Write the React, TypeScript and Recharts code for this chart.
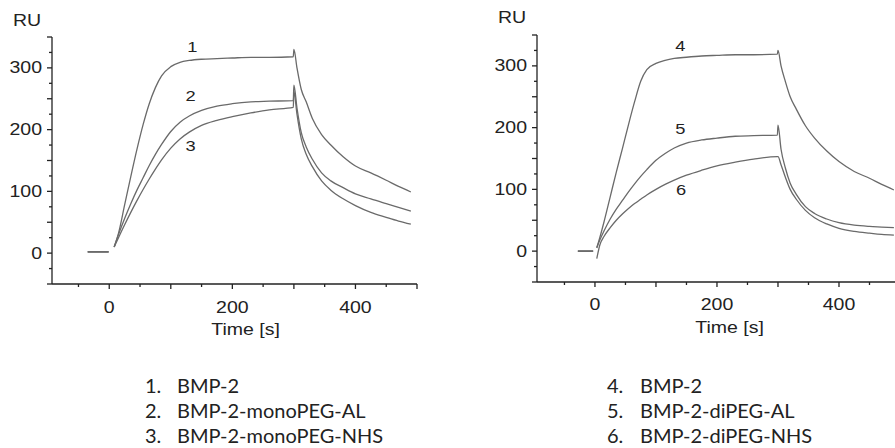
import React from 'react';
import { LineChart, Line, XAxis, YAxis, ReferenceDot } from 'recharts';

// time points (s) for each panel
const leftTime = [-35, -1, 4, 8, 15, 25, 35, 45, 55, 65, 75, 85, 100, 115, 130, 150, 175, 200, 230, 260, 299, 300, 305, 312, 320, 330, 345, 360, 380, 400, 425, 450, 470, 490];
const rightTime = [-28, -3, 1, 3, 8, 15, 25, 35, 45, 55, 65, 75, 85, 100, 115, 130, 150, 175, 200, 230, 260, 299, 300, 305, 312, 320, 330, 345, 360, 380, 400, 425, 450, 470, 490];

// response (RU), null = gap before injection
const bmp2Left = [2, 2, null, 10, 32, 78, 124, 168, 208, 242, 268, 287, 302, 309, 312, 314, 315, 316, 317, 317, 318, 330, 300, 265, 245, 218, 192, 175, 156, 141, 130, 118, 108, 99];
const monoPegAl = [2, 2, null, 10, 30, 56, 80, 102, 122, 142, 160, 176, 197, 212, 222, 231, 238, 242, 245, 246, 247, 272, 235, 195, 172, 152, 130, 117, 106, 96, 88, 80, 74, 68];
const monoPegNhs = [2, 2, null, 10, 25, 46, 66, 85, 103, 120, 136, 151, 170, 185, 196, 207, 215, 221, 227, 232, 236, 262, 225, 185, 160, 140, 117, 102, 88, 77, 66, 58, 52, 47];

const bmp2Right = [0, 0, null, 5, 22, 48, 88, 128, 166, 205, 242, 275, 294, 304, 309, 312, 314, 316, 317, 318, 318, 319, 325, 300, 275, 250, 230, 203, 183, 162, 145, 129, 118, 108, 99];
const diPegAl = [0, 0, null, 6, 18, 33, 52, 68, 82, 96, 109, 121, 132, 147, 158, 167, 175, 180, 183, 186, 187, 188, 204, 165, 135, 110, 92, 72, 61, 52, 46, 42, 40, 39, 38];
const diPegNhs = [0, 0, null, -12, 10, 24, 38, 50, 60, 69, 77, 84, 91, 100, 108, 115, 123, 131, 138, 144, 149, 153, 153, 140, 120, 100, 84, 66, 54, 44, 37, 32, 29, 27, 26];

const xTicks = [-50, 0, 50, 100, 150, 200, 250, 300, 350, 400, 450, 500];
const xLabels = [0, 200, 400];
const yTicks = [-50, -25, 0, 25, 50, 75, 100, 125, 150, 175, 200, 225, 250, 275, 300, 325, 350];
const yLabels = [0, 100, 200, 300];

const leftLegend = ['BMP-2', 'BMP-2-monoPEG-AL', 'BMP-2-monoPEG-NHS'];
const rightLegend = ['BMP-2', 'BMP-2-diPEG-AL', 'BMP-2-diPEG-NHS'];

const leftTags = [
  { n: '1', t: 135, v: 334 },
  { n: '2', t: 132, v: 255 },
  { n: '3', t: 132, v: 174 },
];
const rightTags = [
  { n: '4', t: 140, v: 332 },
  { n: '5', t: 140, v: 198 },
  { n: '6', t: 141, v: 99 },
];

const toRows = (time: number[], a: (number | null)[], b: (number | null)[], c: (number | null)[]) =>
  time.map((t, i) => ({ t, a: a[i], b: b[i], c: c[i] }));

const leftData = toRows(leftTime, bmp2Left, monoPegAl, monoPegNhs);
const rightData = toRows(rightTime, bmp2Right, diPegAl, diPegNhs);

const INK = '#222';
const CURVE = '#6a6a6a';
const FONT = '"Liberation Sans", Arial, sans-serif';
const STRETCH = 1.22; // the original's lettering is a bit wide

const Wide = ({ x, y, anchor = 'middle', dy, size = 16, children }: any) => (
  <text
    transform={`translate(${x},${y}) scale(${STRETCH},1)`}
    dy={dy}
    textAnchor={anchor}
    fontSize={size}
    fontFamily={FONT}
    fill={INK}
  >
    {children}
  </text>
);

const XTick = ({ x, y, payload, labelDy }: any) => {
  const v = payload.value;
  const len = v % 100 === 0 ? 5 : 3;
  return (
    <g>
      <line x1={x} x2={x} y1={y} y2={y + len} stroke={INK} strokeWidth={1.3} />
      {xLabels.includes(v) && <Wide x={x} y={y + labelDy}>{v}</Wide>}
    </g>
  );
};

const YTick = ({ x, y, payload }: any) => {
  const v = payload.value;
  const len = v % 50 === 0 ? 5 : 3;
  return (
    <g>
      <line x1={x - len} x2={x} y1={y} y2={y} stroke={INK} strokeWidth={1.3} />
      {yLabels.includes(v) && (
        <Wide x={x - 10} y={y} anchor="end" dy="0.35em">
          {v}
        </Wide>
      )}
    </g>
  );
};

const TimeTitle = ({ viewBox }: any) => (
  <Wide x={viewBox.x + viewBox.width / 2 + 11} y={viewBox.y + 51}>
    Time [s]
  </Wide>
);

const TagLabel = ({ viewBox, text }: any) => (
  <Wide x={viewBox.x + viewBox.width / 2} y={viewBox.y + viewBox.height / 2} dy="0.35em" size={15}>
    {text}
  </Wide>
);

const Panel = ({ data, tags, top, right, labelDy, xMin }: any) => (
  <LineChart width={440} height={top + 247 + 56} data={data} margin={{ top, right, left: 0, bottom: 0 }}>
    <XAxis
      dataKey="t"
      type="number"
      domain={[xMin, 500]}
      ticks={xTicks}
      allowDataOverflow
      height={56}
      axisLine={{ stroke: INK, strokeWidth: 1.3 }}
      tickLine={false}
      tickSize={0}
      tickMargin={0}
      tick={<XTick labelDy={labelDy} />}
      interval={0}
      label={<TimeTitle />}
    />
    <YAxis
      type="number"
      domain={[-50, 350]}
      ticks={yTicks}
      allowDataOverflow
      width={52}
      axisLine={{ stroke: INK, strokeWidth: 1.3 }}
      tickLine={false}
      tickSize={0}
      tickMargin={0}
      tick={<YTick />}
      interval={0}
    />
    {['a', 'b', 'c'].map((k) => (
      <Line key={k} dataKey={k} type="monotone" stroke={CURVE} strokeWidth={1.3} dot={false} isAnimationActive={false} />
    ))}
    {tags.map((g: any) => (
      <ReferenceDot key={g.n} x={g.t} y={g.v} r={1} fill="none" stroke="none" label={<TagLabel text={g.n} />} />
    ))}
  </LineChart>
);

const Legend = ({ items, start, left, numWidth }: any) => (
  <div style={{ position: 'absolute', left, top: 377, fontFamily: 'Lato, "Open Sans", sans-serif', fontSize: 20, lineHeight: '16px', color: INK }}>
    {items.map((s: string, i: number) => (
      <div key={s} style={{ display: 'flex', whiteSpace: 'nowrap', height: 16, marginBottom: 9 }}>
        <span style={{ width: numWidth }}>{start + i}.</span>
        <span>{s}</span>
      </div>
    ))}
  </div>
);

const ruStyle: React.CSSProperties = {
  position: 'absolute',
  fontFamily: FONT,
  fontSize: 16,
  lineHeight: '16px',
  color: INK,
  transform: `scaleX(${STRETCH})`,
  transformOrigin: 'left center',
};

export default function App() {
  return (
    <div style={{ position: 'absolute', left: 0, top: 0, width: 895, height: 448, overflow: 'hidden', background: '#fff' }}>
      <div style={{ ...ruStyle, left: 13, top: 13 }}>RU</div>
      <div style={{ ...ruStyle, left: 498, top: 10 }}>RU</div>
      <div style={{ position: 'absolute', left: 0, top: 0 }}>
        <Panel data={leftData} tags={leftTags} top={37} right={23} labelDy={29} xMin={-93} />
      </div>
      <div style={{ position: 'absolute', left: 485, top: 0 }}>
        <Panel data={rightData} tags={rightTags} top={35} right={25} labelDy={28} xMin={-95} />
      </div>
      <Legend items={leftLegend} start={1} left={145} numWidth={32} />
      <Legend items={rightLegend} start={4} left={607} numWidth={33} />
    </div>
  );
}
